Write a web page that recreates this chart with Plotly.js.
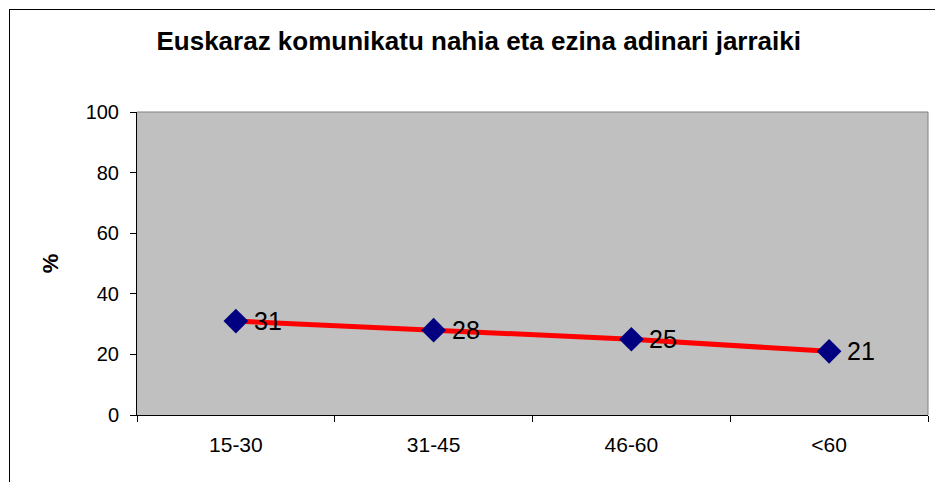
<!DOCTYPE html>
<html>
<head>
<meta charset="utf-8">
<script src="https://cdn.plot.ly/plotly-3.0.1.min.js"></script>
<style>
  html, body { margin: 0; padding: 0; background: #fff; }
  #wrap { position: relative; width: 935px; height: 482px; overflow: hidden; }
  #frame { position: absolute; left: 9px; top: 9px; width: 940px; height: 490px;
           border-left: 1px solid #000; border-top: 1px solid #000; pointer-events: none; z-index: 5; }
  #chart { position: absolute; left: 0; top: 0; width: 935px; height: 482px; }
</style>
</head>
<body>
<div id="wrap">
  <div id="chart"></div>
  <div id="frame"></div>
</div>
<script>
const titleText = "Euskaraz komunikatu nahia eta ezina adinari jarraiki";
const yTitle = "%";
const categories = ["15-30", "31-45", "46-60", "<60"];
const values = [31, 28, 25, 21];
const yTicks = [0, 20, 40, 60, 80, 100];

const font = "Arial, 'Liberation Sans', sans-serif";

const trace = {
  type: "scatter",
  mode: "lines+markers",
  x: categories,
  y: values,
  line: { color: "#ff0000", width: 5 },
  marker: { symbol: "diamond", size: 19, color: "#000080", line: { width: 0 } },
  cliponaxis: false,
  hoverinfo: "skip"
};

const labels = categories.map((c, i) => ({
  x: c, y: values[i], xref: "x", yref: "y",
  text: String(values[i]), showarrow: false,
  xanchor: "left", yanchor: "middle", xshift: 16, yshift: 0,
  font: { family: font, size: 25, color: "#000" }
}));

const layout = {
  width: 935, height: 482,
  margin: { l: 137, r: 7, t: 112, b: 67 },
  paper_bgcolor: "#ffffff",
  plot_bgcolor: "#c0c0c0",
  showlegend: false,
  title: {
    text: "<b>" + titleText + "</b>",
    font: { family: font, size: 26, color: "#000" },
    x: 0.512, xref: "container", xanchor: "center",
    y: 0.915, yref: "container", yanchor: "middle"
  },
  xaxis: {
    type: "category",
    categoryorder: "array",
    categoryarray: categories,
    range: [-0.5, categories.length - 0.5],
    tickson: "boundaries",
    ticks: "outside", ticklen: 6, tickcolor: "#000", tickwidth: 1,
    showline: true, linecolor: "#000", linewidth: 1,
    showgrid: false, zeroline: false,
    tickfont: { family: font, size: 21, color: "#000" },
    ticklabelstandoff: 11,
    fixedrange: true
  },
  yaxis: {
    range: [0, 100],
    tickmode: "array",
    tickvals: yTicks,
    ticktext: yTicks.map(String),
    ticks: "outside", ticklen: 6, tickcolor: "#000", tickwidth: 1,
    showline: true, linecolor: "#000", linewidth: 1,
    showgrid: false, zeroline: false,
    tickfont: { family: font, size: 20, color: "#000" },
    ticklabelstandoff: 7,
    title: { text: "<b>" + yTitle + "</b>", font: { family: font, size: 22, color: "#000" }, standoff: 20 },
    fixedrange: true
  },
  annotations: labels,
  shapes: [
    { type: "line", xref: "paper", yref: "paper", x0: 0, x1: 1, y0: 1, y1: 1,
      line: { color: "#808080", width: 1 } },
    { type: "line", xref: "paper", yref: "paper", x0: 1, x1: 1, y0: 0, y1: 1,
      line: { color: "#808080", width: 1 } }
  ]
};

Plotly.newPlot("chart", [trace], layout, { staticPlot: true, displayModeBar: false });
</script>
</body>
</html>
